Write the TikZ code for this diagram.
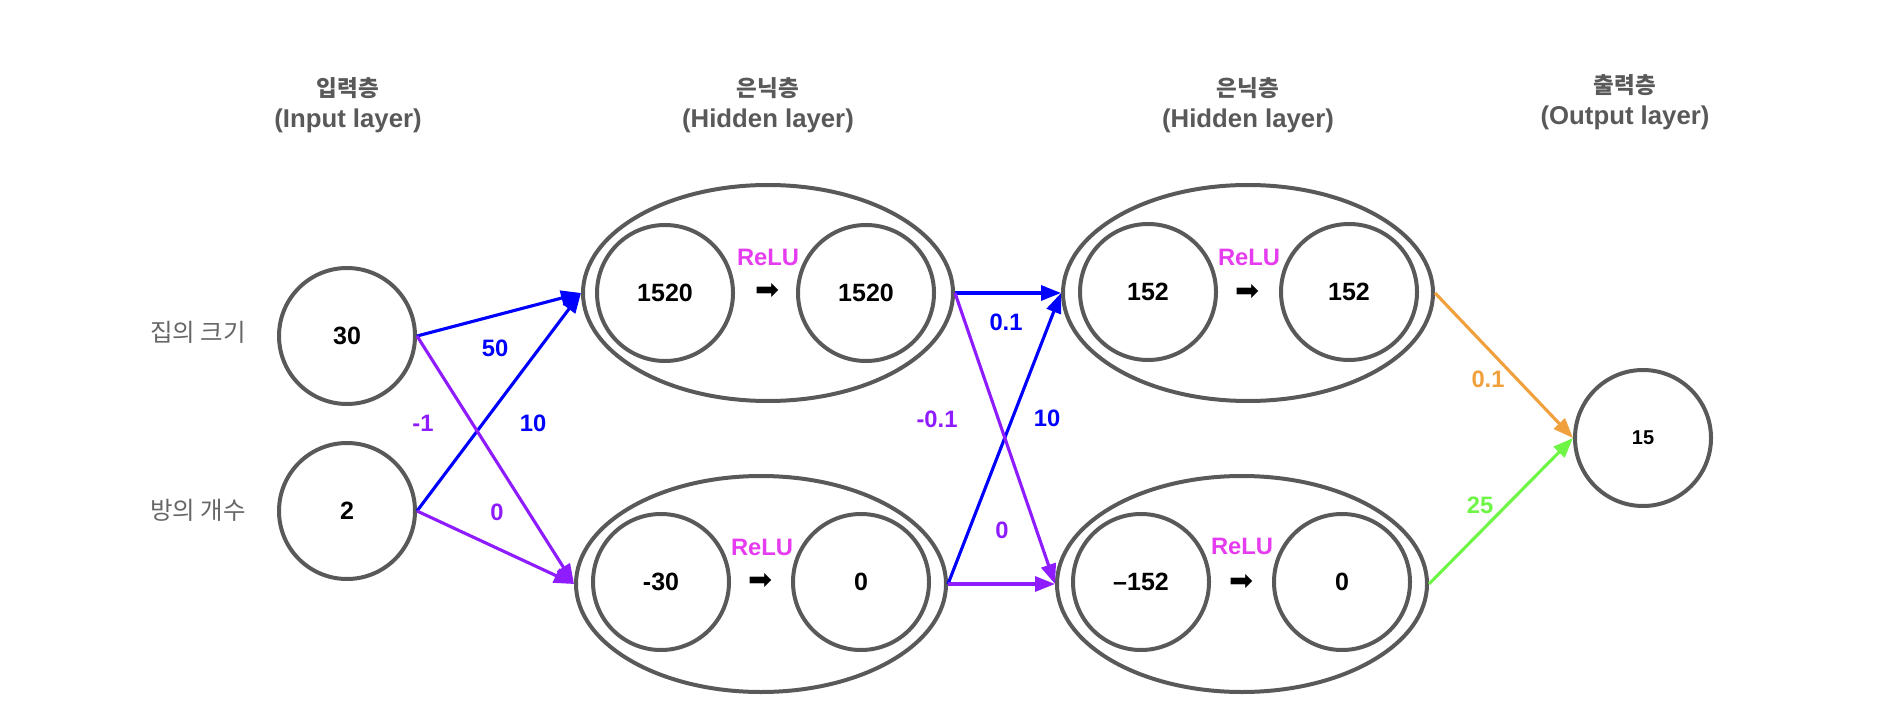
\documentclass[tikz,border=0pt]{standalone}
\usepackage{fontspec}
\setmainfont{Liberation Sans}
\newfontfamily\kr{Noto Sans CJK KR}
\newfontfamily\symf{DejaVu Sans}
\usetikzlibrary{shapes.geometric,arrows.meta}
\definecolor{linegray}{HTML}{595959}
\definecolor{headgray}{HTML}{595959}
\definecolor{sidegray}{HTML}{666666}
\definecolor{wblue}{HTML}{0000FF}
\definecolor{wpurple}{HTML}{8E1CFF}
\definecolor{relumag}{HTML}{E63CF0}
\definecolor{worange}{HTML}{F0A03C}
\definecolor{wgreen}{HTML}{6EF546}
\tikzset{
  neuron/.style={circle, draw=linegray, line width=1.6pt, minimum size=54.4pt, inner sep=0pt,
    font=\bfseries\fontsize{10}{12}\selectfont},
  outneuron/.style={neuron, font=\bfseries\fontsize{8}{10}\selectfont},
  layerbox/.style={ellipse, draw=linegray, line width=1.6pt, minimum width=148pt,
    minimum height=86.4pt, inner sep=0pt},
  header/.style={text=headgray, align=center, font=\bfseries\fontsize{10.3}{12.4}\selectfont},
  sidelabel/.style={text=sidegray, font=\kr\fontsize{9.8}{11}\selectfont},
  wlabel/.style={font=\bfseries\fontsize{9.5}{11}\selectfont},
  relulabel/.style={text=relumag, font=\bfseries\fontsize{9.5}{11}\selectfont},
  actarrow/.style={font=\symf\fontsize{11.5}{13}\selectfont},
  conn/.style={-{Triangle[length=8pt,width=6pt]}, line width=1.25pt},
}
\newcommand{\krhead}[1]{{\kr\fontsize{9}{12.4}\selectfont\bfseries #1}}
\begin{document}
\begin{tikzpicture}[x=0.4pt,y=-0.4pt]
\useasboundingbox (0,0) rectangle (1898,712);

% headers
\node[header] (hin) at (348,105) {\krhead{입력층}\\(Input layer)};
\node[header] (hh1) at (768,105) {\krhead{은닉층}\\(Hidden layer)};
\node[header] (hh2) at (1248,105) {\krhead{은닉층}\\(Hidden layer)};
\node[header] (hout) at (1625,102) {\krhead{출력층}\\(Output layer)};

% side labels
\node[sidelabel] (s1) at (198,332) {집의 크기};
\node[sidelabel] (s2) at (198,510) {방의 개수};

% input nodes
\node[neuron] (i1) at (347,336) {30};
\node[neuron] (i2) at (347,511) {2};

% hidden layer 1
\node[layerbox] (h1a) at (768,293) {};
\node[neuron] (h1a1) at (665,293) {1520};
\node[neuron] (h1a2) at (866,293) {1520};
\node[relulabel] (r1a) at (768,257) {ReLU};
\node[actarrow] (a1a) at (768,291) {➡};

\node[layerbox] (h1b) at (761,584) {};
\node[neuron] (h1b1) at (661,582) {-30};
\node[neuron] (h1b2) at (861,582) {0};
\node[relulabel] (r1b) at (762,547) {ReLU};
\node[actarrow] (a1b) at (761,581) {➡};

% hidden layer 2
\node[layerbox] (h2a) at (1248,293) {};
\node[neuron] (h2a1) at (1148,292) {152};
\node[neuron] (h2a2) at (1349,292) {152};
\node[relulabel] (r2a) at (1249,257) {ReLU};
\node[actarrow] (a2a) at (1248,292) {➡};

\node[layerbox] (h2b) at (1242,584) {};
\node[neuron] (h2b1) at (1141,582) {–152};
\node[neuron] (h2b2) at (1342,582) {0};
\node[relulabel] (r2b) at (1242,546) {ReLU};
\node[actarrow] (a2b) at (1242,582) {➡};

% output
\node[outneuron] (o) at (1643,438) {15};

% connectors
\draw[conn, wblue] (i1.east) -- (h1a.west);
\draw[conn, wblue] (i2.east) -- (h1a.west);
\draw[conn, wpurple] (i1.east) -- (h1b.west);
\draw[conn, wpurple] (i2.east) -- (h1b.west);
\draw[conn, wblue] (h1a.east) -- (h2a.west);
\draw[conn, wblue] (h1b.east) -- (h2a.west);
\draw[conn, wpurple] (h1a.east) -- (h2b.west);
\draw[conn, wpurple] (h1b.east) -- (h2b.west);
\draw[conn, worange] (h2a.east) -- (o.west);
\draw[conn, wgreen] (h2b.east) -- (o.west);

% weights
\node[wlabel, text=wblue] (w1) at (495,348) {50};
\node[wlabel, text=wblue] (w2) at (533,423) {10};
\node[wlabel, text=wpurple] (w3) at (423,423) {-1};
\node[wlabel, text=wpurple] (w4) at (497,512) {0};
\node[wlabel, text=wblue] (w5) at (1006,322) {0.1};
\node[wlabel, text=wpurple] (w6) at (937,419) {-0.1};
\node[wlabel, text=wblue] (w7) at (1047,418) {10};
\node[wlabel, text=wpurple] (w8) at (1002,530) {0};
\node[wlabel, text=worange] (w9) at (1488,379) {0.1};
\node[wlabel, text=wgreen] (w10) at (1480,505) {25};
\end{tikzpicture}
\end{document}
